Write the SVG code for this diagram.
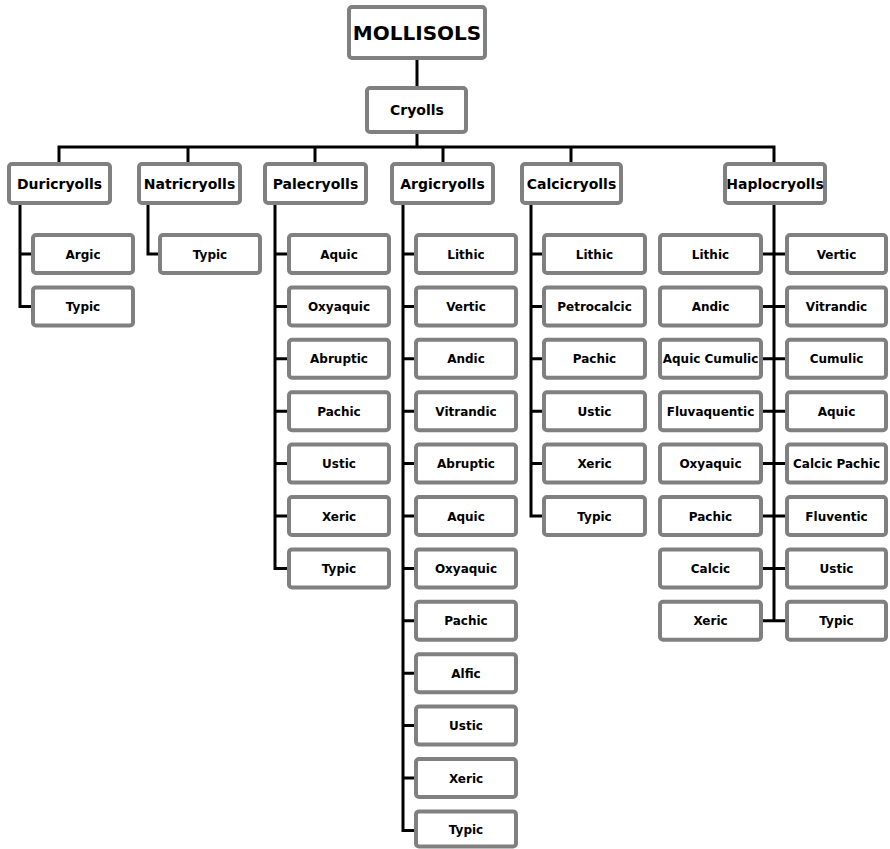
<svg xmlns="http://www.w3.org/2000/svg" width="890" height="849" viewBox="0 0 890 849">
<style>
rect{fill:#fff;stroke:#808080;stroke-width:4}
text{font-family:"DejaVu Sans","Liberation Sans",sans-serif;font-weight:bold;fill:#000;text-anchor:middle}
.t{font-size:12px}
.h{font-size:14px}
.m{font-size:20px}
.cn path{fill:none;stroke:#000;stroke-width:3}
</style>
<rect x="0" y="0" width="890" height="849" style="fill:#fff;stroke:none"/>
<g class="cn" id="connectors">
<path d="M417 60V86M417 134V147M59 162V147H774V162M188 147V162M315 147V162M443 147V162M571 147V162"/>
<path d="M20 205V306.4H31M20 254H31"/>
<path d="M148 205V254H158"/>
<path d="M275 205V568.4H287M275 254H287M275 306.4H287M275 358.8H287M275 411.2H287M275 463.6H287M275 516H287"/>
<path d="M403 205V830.4H414M403 254H414M403 306.4H414M403 358.8H414M403 411.2H414M403 463.6H414M403 516H414M403 568.4H414M403 620.8H414M403 673.2H414M403 725.6H414M403 778H414"/>
<path d="M531 205V516H542M531 254H542M531 306.4H542M531 358.8H542M531 411.2H542M531 463.6H542"/>
<path d="M774 205V620.8M763 254H785M763 306.4H785M763 358.8H785M763 411.2H785M763 463.6H785M763 516H785M763 568.4H785M763 620.8H785"/>
</g>
<g id="mollisols"><rect x="349" y="7" width="136" height="51" rx="3"/><text class="m" x="417" y="40">MOLLISOLS</text></g>
<g id="cryolls"><rect x="367" y="88" width="99" height="44" rx="3"/><text class="h" x="417" y="115">Cryolls</text></g>
<g id="duricryolls"><rect x="9" y="164" width="101" height="39" rx="3"/><text class="h" x="59.5" y="188.5">Duricryolls</text></g>
<g id="natricryolls"><rect x="139" y="164" width="101" height="39" rx="3"/><text class="h" x="189.5" y="188.5">Natricryolls</text></g>
<g id="palecryolls"><rect x="265" y="164" width="101" height="39" rx="3"/><text class="h" x="315.5" y="188.5">Palecryolls</text></g>
<g id="argicryolls"><rect x="392" y="164" width="101" height="39" rx="3"/><text class="h" x="442.5" y="188.5">Argicryolls</text></g>
<g id="calcicryolls"><rect x="522" y="164" width="99" height="39" rx="3"/><text class="h" x="571.5" y="188.5">Calcicryolls</text></g>
<g id="haplocryolls"><rect x="725" y="164" width="100" height="39" rx="3"/><text class="h" x="775" y="188.5">Haplocryolls</text></g>

<g id="duri-argic"><rect x="33" y="235" width="100" height="38" rx="3"/><text class="t" x="83" y="258.5">Argic</text></g>
<g id="duri-typic"><rect x="33" y="287.4" width="100" height="38" rx="3"/><text class="t" x="83" y="310.9">Typic</text></g>

<g id="natri-typic"><rect x="160" y="235" width="100" height="38" rx="3"/><text class="t" x="210" y="258.5">Typic</text></g>

<g id="pale-aquic"><rect x="289" y="235" width="100" height="38" rx="3"/><text class="t" x="339" y="258.5">Aquic</text></g>
<g id="pale-oxyaquic"><rect x="289" y="287.4" width="100" height="38" rx="3"/><text class="t" x="339" y="310.9">Oxyaquic</text></g>
<g id="pale-abruptic"><rect x="289" y="339.8" width="100" height="38" rx="3"/><text class="t" x="339" y="363.3">Abruptic</text></g>
<g id="pale-pachic"><rect x="289" y="392.2" width="100" height="38" rx="3"/><text class="t" x="339" y="415.7">Pachic</text></g>
<g id="pale-ustic"><rect x="289" y="444.6" width="100" height="38" rx="3"/><text class="t" x="339" y="468.1">Ustic</text></g>
<g id="pale-xeric"><rect x="289" y="497" width="100" height="38" rx="3"/><text class="t" x="339" y="520.5">Xeric</text></g>
<g id="pale-typic"><rect x="289" y="549.4" width="100" height="38" rx="3"/><text class="t" x="339" y="572.9">Typic</text></g>

<g id="argi-lithic"><rect x="416" y="235" width="100" height="38" rx="3"/><text class="t" x="466" y="258.5">Lithic</text></g>
<g id="argi-vertic"><rect x="416" y="287.4" width="100" height="38" rx="3"/><text class="t" x="466" y="310.9">Vertic</text></g>
<g id="argi-andic"><rect x="416" y="339.8" width="100" height="38" rx="3"/><text class="t" x="466" y="363.3">Andic</text></g>
<g id="argi-vitrandic"><rect x="416" y="392.2" width="100" height="38" rx="3"/><text class="t" x="466" y="415.7">Vitrandic</text></g>
<g id="argi-abruptic"><rect x="416" y="444.6" width="100" height="38" rx="3"/><text class="t" x="466" y="468.1">Abruptic</text></g>
<g id="argi-aquic"><rect x="416" y="497" width="100" height="38" rx="3"/><text class="t" x="466" y="520.5">Aquic</text></g>
<g id="argi-oxyaquic"><rect x="416" y="549.4" width="100" height="38" rx="3"/><text class="t" x="466" y="572.9">Oxyaquic</text></g>
<g id="argi-pachic"><rect x="416" y="601.8" width="100" height="38" rx="3"/><text class="t" x="466" y="625.3">Pachic</text></g>
<g id="argi-alfic"><rect x="416" y="654.2" width="100" height="38" rx="3"/><text class="t" x="466" y="677.7">Alfic</text></g>
<g id="argi-ustic"><rect x="416" y="706.6" width="100" height="38" rx="3"/><text class="t" x="466" y="730.1">Ustic</text></g>
<g id="argi-xeric"><rect x="416" y="759" width="100" height="38" rx="3"/><text class="t" x="466" y="782.5">Xeric</text></g>
<g id="argi-typic"><rect x="416" y="811.4" width="100" height="35" rx="3"/><text class="t" x="466" y="834">Typic</text></g>

<g id="calci-lithic"><rect x="544" y="235" width="101" height="38" rx="3"/><text class="t" x="594.5" y="258.5">Lithic</text></g>
<g id="calci-petrocalcic"><rect x="544" y="287.4" width="101" height="38" rx="3"/><text class="t" x="594.5" y="310.9">Petrocalcic</text></g>
<g id="calci-pachic"><rect x="544" y="339.8" width="101" height="38" rx="3"/><text class="t" x="594.5" y="363.3">Pachic</text></g>
<g id="calci-ustic"><rect x="544" y="392.2" width="101" height="38" rx="3"/><text class="t" x="594.5" y="415.7">Ustic</text></g>
<g id="calci-xeric"><rect x="544" y="444.6" width="101" height="38" rx="3"/><text class="t" x="594.5" y="468.1">Xeric</text></g>
<g id="calci-typic"><rect x="544" y="497" width="101" height="38" rx="3"/><text class="t" x="594.5" y="520.5">Typic</text></g>

<g id="haplo-lithic"><rect x="660" y="235" width="101" height="38" rx="3"/><text class="t" x="710.5" y="258.5">Lithic</text></g>
<g id="haplo-andic"><rect x="660" y="287.4" width="101" height="38" rx="3"/><text class="t" x="710.5" y="310.9">Andic</text></g>
<g id="haplo-aquic-cumulic"><rect x="660" y="339.8" width="101" height="38" rx="3"/><text class="t" x="710.5" y="363.3">Aquic Cumulic</text></g>
<g id="haplo-fluvaquentic"><rect x="660" y="392.2" width="101" height="38" rx="3"/><text class="t" x="710.5" y="415.7">Fluvaquentic</text></g>
<g id="haplo-oxyaquic"><rect x="660" y="444.6" width="101" height="38" rx="3"/><text class="t" x="710.5" y="468.1">Oxyaquic</text></g>
<g id="haplo-pachic"><rect x="660" y="497" width="101" height="38" rx="3"/><text class="t" x="710.5" y="520.5">Pachic</text></g>
<g id="haplo-calcic"><rect x="660" y="549.4" width="101" height="38" rx="3"/><text class="t" x="710.5" y="572.9">Calcic</text></g>
<g id="haplo-xeric"><rect x="660" y="601.8" width="101" height="38" rx="3"/><text class="t" x="710.5" y="625.3">Xeric</text></g>

<g id="haplo-vertic"><rect x="787" y="235" width="99" height="38" rx="3"/><text class="t" x="836.5" y="258.5">Vertic</text></g>
<g id="haplo-vitrandic"><rect x="787" y="287.4" width="99" height="38" rx="3"/><text class="t" x="836.5" y="310.9">Vitrandic</text></g>
<g id="haplo-cumulic"><rect x="787" y="339.8" width="99" height="38" rx="3"/><text class="t" x="836.5" y="363.3">Cumulic</text></g>
<g id="haplo-aquic"><rect x="787" y="392.2" width="99" height="38" rx="3"/><text class="t" x="836.5" y="415.7">Aquic</text></g>
<g id="haplo-calcic-pachic"><rect x="787" y="444.6" width="99" height="38" rx="3"/><text class="t" x="836.5" y="468.1">Calcic Pachic</text></g>
<g id="haplo-fluventic"><rect x="787" y="497" width="99" height="38" rx="3"/><text class="t" x="836.5" y="520.5">Fluventic</text></g>
<g id="haplo-ustic"><rect x="787" y="549.4" width="99" height="38" rx="3"/><text class="t" x="836.5" y="572.9">Ustic</text></g>
<g id="haplo-typic"><rect x="787" y="601.8" width="99" height="38" rx="3"/><text class="t" x="836.5" y="625.3">Typic</text></g>
</svg>
